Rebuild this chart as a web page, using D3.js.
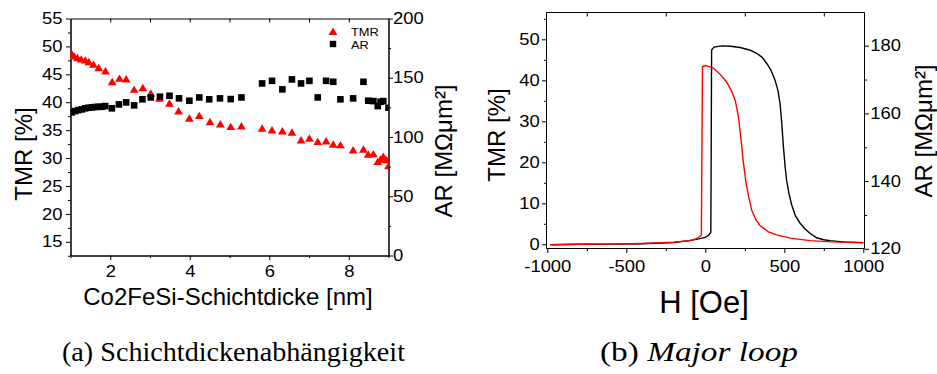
<!DOCTYPE html>
<html><head><meta charset="utf-8">
<script src="https://cdn.jsdelivr.net/npm/d3@7"></script>
<style>
body{margin:0;background:#fff;}
svg{display:block;}
text{font-family:"Liberation Sans",Arial,Helvetica,sans-serif;fill:#000;}
.cap{font-family:"Liberation Serif","Times New Roman",serif;}
</style></head><body>
<svg id="c" width="937" height="374"></svg>
<script>
// ---------- data: (a) thickness dependence ----------
const thicknessTMR = [1.025,1.093,1.176,1.27,1.37,1.46,1.58,1.71,1.88,2.048,2.232,2.4,2.6,2.82,3.02,3.24,3.49,3.72,3.99,4.24,4.51,4.77,5.03,5.30,5.82,6.07,6.33,6.57,6.80,7.01,7.22,7.43,7.61,7.79,8.11,8.37,8.49,8.62,8.73,8.80,8.87,8.95,9.0];
const tmrValues = [48.74,48.26,47.96,47.72,47.54,47.24,46.78,46.17,45.58,43.67,44.27,44.15,42.3,42.6,41.59,40.7,39.8,38.43,37.12,37.59,36.51,36.1,35.62,35.74,35.33,35.03,34.85,34.62,33.24,33.54,32.94,33.06,32.47,32.35,31.45,31.58,30.68,30.74,29.36,29.79,30.26,29.67,28.6];
const thicknessAR = [1.035,1.118,1.2,1.287,1.37,1.453,1.538,1.62,1.704,1.79,1.872,2.04,2.217,2.40,2.60,2.81,3.02,3.25,3.49,3.73,3.99,4.24,4.49,4.76,5.03,5.30,5.82,6.07,6.33,6.57,6.80,7.01,7.22,7.43,7.61,7.79,8.11,8.37,8.49,8.62,8.73,8.80,8.87,9.0];
const arValues = [120.8,121.9,122.7,123.3,124.2,124.7,125.0,125.3,125.5,125.5,126.1,124.2,127.5,129.2,126.7,131.8,133.4,134.0,134.8,132.6,130.6,133.4,131.8,132.6,132.0,133.4,145.2,147.4,140.2,148.6,145.2,147.4,133.4,147.4,146.6,131.8,132.6,146.6,130.6,130.3,126.1,129.7,130.3,124.7];
const thickTicks = [2,4,6,8];
const tmrTicksA = [15,20,25,30,35,40,45,50,55];
const arTicksA = [0,50,100,150,200];

// ---------- data: (b) major loop ----------
const fieldBlack = [-980,-800,-600,-400,-200,-100,-50,0,20,35,40,55,104,160,220,280,325,360,389,415,441,460,473,484,494,505,515,530,547,570,599,630,662,705,750,789,873,930,1000];
const tmrBlack = [-0.1,0,0.05,0.15,0.45,0.9,1.25,1.7,2.2,2.9,47.4,48.1,48.4,48.3,48.0,47.4,46.6,45.6,44.1,42.5,40.1,37.5,34.4,29.5,24.0,19.0,15.5,12.3,9.6,7.0,5.2,3.8,2.7,1.6,1.1,0.9,0.6,0.5,0.4];
const fieldRed = [-980,-800,-600,-400,-200,-100,-60,-35,-25,-18,0,20,50,93,135,167,190,210,225,241,256,272,294,320,346,400,450,536,662,800,1000];
const tmrRed = [-0.1,0,0.05,0.2,0.5,0.9,1.3,1.9,2.3,43.3,43.6,43.4,43.0,41.5,39.6,37.3,35.0,31.0,26.0,20.0,15.5,12.0,8.3,6.0,4.6,3.0,2.3,1.5,0.9,0.6,0.35];
const fieldTicks = [-1000,-500,0,500,1000];
const tmrTicksB = [0,10,20,30,40,50];
const arTicksB = [120,140,160,180];

const svg = d3.select("#c");
const TS = "scale(1.15,1)";
const plain = d => String(d);

function styleAxis(g, fs){
  g.select(".domain").attr("stroke","#000").attr("stroke-width",1);
  g.selectAll(".tick line").attr("stroke","#000").attr("stroke-width",1);
  g.selectAll(".tick text").attr("font-size",fs).attr("font-family",'"Liberation Sans",Arial,sans-serif').attr("fill","#000");
}

// ================= Chart (a) =================
const xA = d3.scaleLinear([1,9],[70.5,388.5]);
const yTa = d3.scaleLinear([12.55,55],[255.5,18.5]);
const yAa = d3.scaleLinear([0,200],[255.5,18.5]);

svg.append("defs").append("clipPath").attr("id","clipA").append("rect")
  .attr("x",xA(1)).attr("y",yTa(55)).attr("width",xA(9)-xA(1)).attr("height",yTa(12.55)-yTa(55));

// minor ticks
svg.append("g").attr("transform",`translate(0,${yTa(12.55)})`)
  .call(d3.axisBottom(xA).tickValues([1,3,5,7,9]).tickSize(2.5).tickFormat("").tickSizeOuter(0)).call(g=>styleAxis(g,16));
svg.append("g").attr("transform",`translate(${xA(1)},0)`)
  .call(d3.axisLeft(yTa).tickValues(d3.range(12.5,55,5)).tickSize(2.5).tickFormat("").tickSizeOuter(0)).call(g=>styleAxis(g,16));
svg.append("g").attr("transform",`translate(${xA(9)},0)`)
  .call(d3.axisRight(yAa).tickValues([25,75,125,175]).tickSize(2.5).tickFormat("").tickSizeOuter(0)).call(g=>styleAxis(g,16));
// major
const gxA = svg.append("g").attr("transform",`translate(0,${yTa(12.55)})`)
  .call(d3.axisBottom(xA).tickValues(thickTicks).tickFormat(plain).tickSize(4.5).tickSizeOuter(0)).call(g=>styleAxis(g,16));
gxA.selectAll(".tick text").attr("y",21.5).attr("dy",0).attr("transform",TS);
const gyA = svg.append("g").attr("transform",`translate(${xA(1)},0)`)
  .call(d3.axisLeft(yTa).tickValues(tmrTicksA).tickFormat(plain).tickSize(4.5).tickSizeOuter(0)).call(g=>styleAxis(g,16));
gyA.selectAll(".tick text").attr("x",-7).attr("transform",TS);
const gy2A = svg.append("g").attr("transform",`translate(${xA(9)},0)`)
  .call(d3.axisRight(yAa).tickValues(arTicksA).tickFormat(plain).tickSize(4.5).tickSizeOuter(0)).call(g=>styleAxis(g,16));
gy2A.selectAll(".tick text").attr("x",4).attr("transform",TS);
svg.append("g").attr("transform",`translate(0,${yTa(55)})`)
  .call(d3.axisTop(xA).tickValues([2,3,4,5,6,7,8]).tickSize(-4).tickFormat("").tickSizeOuter(0)).call(g=>styleAxis(g,16));

// marks
const markA = svg.append("g").attr("clip-path","url(#clipA)");
const tri = "M0,-4 L4.4,3.4 L-4.4,3.4 Z";
markA.selectAll("path.tmr").data(thicknessTMR).join("path").attr("class","tmr")
  .attr("d",tri).attr("fill","#ff0000")
  .attr("transform",(d,i)=>`translate(${xA(d)},${yTa(tmrValues[i])})`);
markA.selectAll("rect.ar").data(thicknessAR).join("rect").attr("class","ar")
  .attr("x",d=>xA(d)-3.3).attr("y",(d,i)=>yAa(arValues[i])-3.3)
  .attr("width",6.6).attr("height",6.6).attr("fill","#000");

// legend
const legA = svg.append("g");
legA.append("path").attr("d",tri).attr("fill","#ff0000").attr("transform","translate(333,31.5)");
legA.append("rect").attr("x",333-3.2).attr("y",44-3.2).attr("width",6.4).attr("height",6.4).attr("fill","#000");
legA.append("text").attr("x",351).attr("y",35.6).attr("font-size",11.5).attr("transform","translate(351,0) scale(1.12,1) translate(-351,0)").attr("fill","#222").text("TMR");
legA.append("text").attr("x",351).attr("y",48.6).attr("font-size",11.5).attr("transform","translate(351,0) scale(1.12,1) translate(-351,0)").attr("fill","#222").text("AR");

// titles
svg.append("text").attr("x",228).attr("y",305).attr("text-anchor","middle").attr("font-size",24).text("Co2FeSi-Schichtdicke [nm]");
svg.append("text").attr("transform","translate(31.5,154) rotate(-90)").attr("text-anchor","middle").attr("font-size",24).text("TMR [%]");
svg.append("text").attr("transform","translate(452,151) rotate(-90)").attr("text-anchor","middle").attr("font-size",24).text("AR [MΩμm²]");

// ================= Chart (b) =================
const xB = d3.scaleLinear([-1000,1000],[547.3,863.3]);
const yTb = d3.scaleLinear([0,50],[244.3,39.3]);
const yAb = d3.scaleLinear([120,180],[248.8,45.7]);
const bL = 546.5, bR = 864.5, bT = 12.5, bB = 248.5;

svg.append("defs").append("clipPath").attr("id","clipB").append("rect")
  .attr("x",bL).attr("y",bT).attr("width",bR-bL).attr("height",bB-bT);

// frame lines
svg.append("line").attr("x1",bL).attr("x2",bR).attr("y1",bT).attr("y2",bT).attr("stroke","#000");
svg.append("line").attr("x1",bL).attr("x2",bR).attr("y1",bB).attr("y2",bB).attr("stroke","#000");
svg.append("line").attr("x1",bL).attr("x2",bL).attr("y1",bT).attr("y2",bB).attr("stroke","#000");
svg.append("line").attr("x1",bR).attr("x2",bR).attr("y1",bT).attr("y2",bB).attr("stroke","#000");

function noDomain(g){ g.select(".domain").remove(); }
// minor
svg.append("g").attr("transform",`translate(0,${bB})`)
  .call(d3.axisBottom(xB).tickValues([-750,-250,250,750]).tickSize(2.5).tickFormat("")).call(g=>styleAxis(g,16)).call(noDomain);
svg.append("g").attr("transform",`translate(${bL},0)`)
  .call(d3.axisLeft(yTb).tickValues([5,15,25,35,45,55]).tickSize(2.5).tickFormat("")).call(g=>styleAxis(g,16)).call(noDomain);
svg.append("g").attr("transform",`translate(${bR},0)`)
  .call(d3.axisRight(yAb).tickValues([130,150,170]).tickSize(2.5).tickFormat("")).call(g=>styleAxis(g,16)).call(noDomain);
svg.append("g").attr("transform",`translate(0,${bT})`)
  .call(d3.axisTop(xB).tickValues([-750,-250,250,750]).tickSize(-4).tickFormat("")).call(g=>styleAxis(g,16)).call(noDomain);
// major
const gxB = svg.append("g").attr("transform",`translate(0,${bB})`)
  .call(d3.axisBottom(xB).tickValues(fieldTicks).tickFormat(plain).tickSize(4.5)).call(g=>styleAxis(g,16)).call(noDomain);
gxB.selectAll(".tick text").attr("y",24).attr("dy",0).attr("transform",TS);
const gyB = svg.append("g").attr("transform",`translate(${bL},0)`)
  .call(d3.axisLeft(yTb).tickValues(tmrTicksB).tickFormat(plain).tickSize(4.5)).call(g=>styleAxis(g,16)).call(noDomain);
gyB.selectAll(".tick text").attr("x",-6).attr("transform",TS);
const gy2B = svg.append("g").attr("transform",`translate(${bR},0)`)
  .call(d3.axisRight(yAb).tickValues(arTicksB).tickFormat(plain).tickSize(4.5)).call(g=>styleAxis(g,16)).call(noDomain);
gy2B.selectAll(".tick text").attr("x",5).attr("transform",TS);

// curves
const markB = svg.append("g").attr("clip-path","url(#clipB)");
const lineB = d3.line().x(d=>xB(d[0])).y(d=>yTb(d[1]));
markB.append("path").datum(fieldBlack.map((h,i)=>[h,tmrBlack[i]]))
  .attr("d",lineB).attr("fill","none").attr("stroke","#000").attr("stroke-width",1.4);
markB.append("path").datum(fieldRed.map((h,i)=>[h,tmrRed[i]]))
  .attr("d",lineB).attr("fill","none").attr("stroke","#ff0000").attr("stroke-width",1.4);

// titles
svg.append("text").attr("x",704).attr("y",313).attr("text-anchor","middle").attr("font-size",31).text("H [Oe]");
svg.append("text").attr("transform","translate(505,135) rotate(-90)").attr("text-anchor","middle").attr("font-size",24).text("TMR [%]");
svg.append("text").attr("transform","translate(932,131) rotate(-90)").attr("text-anchor","middle").attr("font-size",24).text("AR [MΩμm²]");

// captions
svg.append("text").attr("class","cap").attr("x",62).attr("y",361).attr("font-size",27)
  .attr("textLength",343).attr("lengthAdjust","spacingAndGlyphs").text("(a) Schichtdickenabhängigkeit");
const capB = svg.append("text").attr("class","cap").attr("x",600).attr("y",361).attr("font-size",27)
  .attr("textLength",198).attr("lengthAdjust","spacingAndGlyphs");
capB.append("tspan").text("(b) ");
capB.append("tspan").attr("font-style","italic").text("Major loop");
</script>
</body></html>
